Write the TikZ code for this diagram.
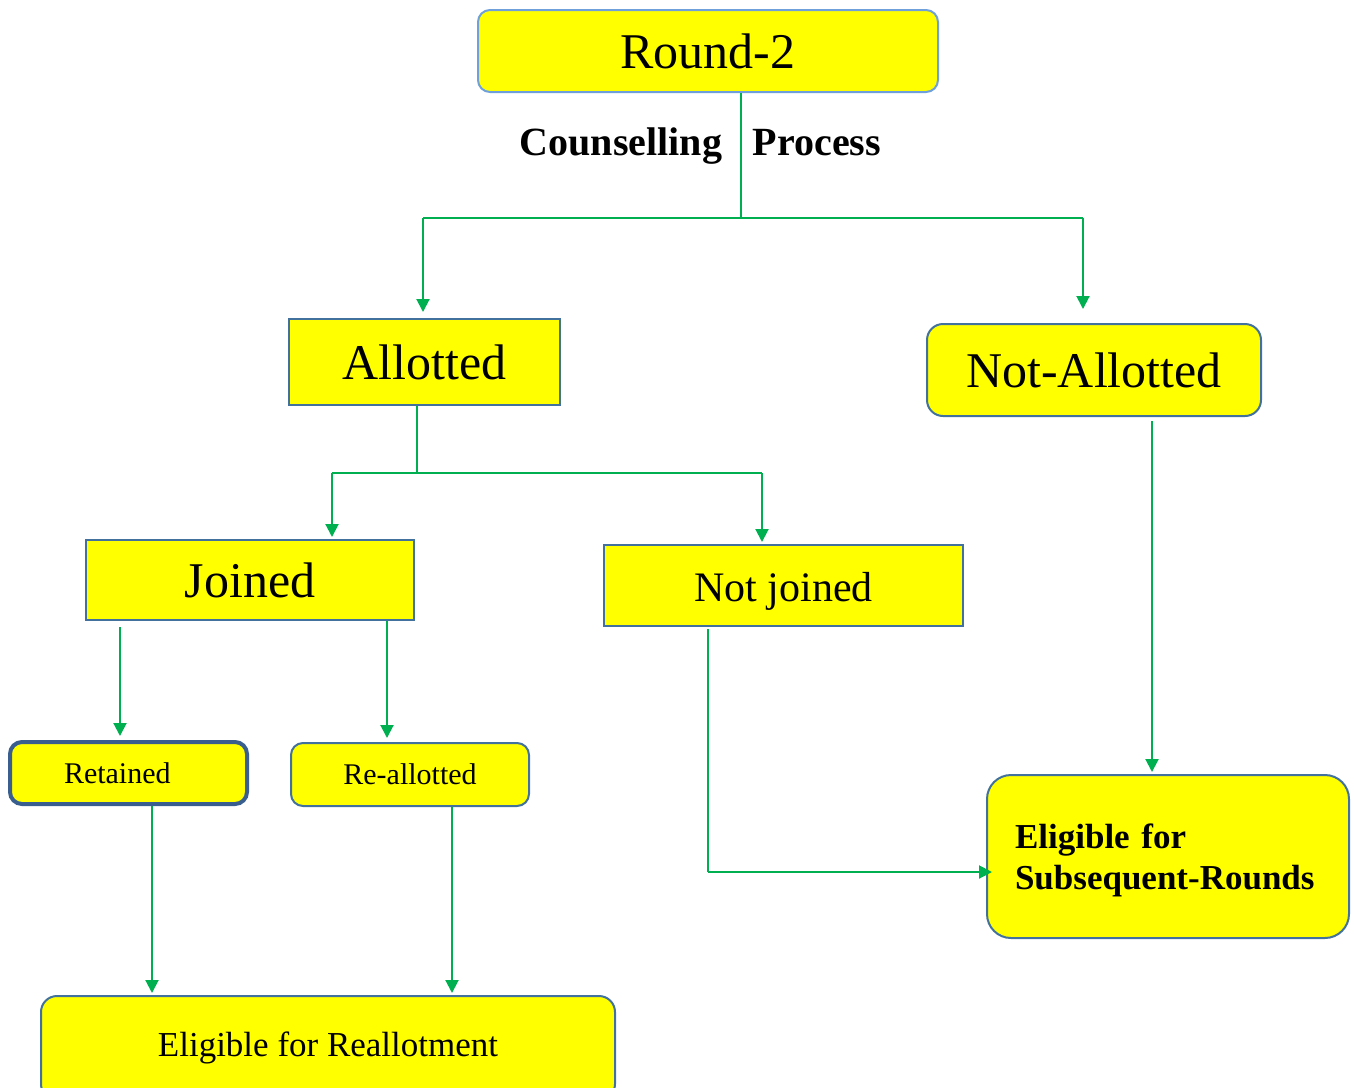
\documentclass[tikz,border=0pt]{standalone}
\usepackage{fontspec}
\setmainfont{Liberation Serif}
\usepackage{tikz}
\usetikzlibrary{arrows.meta}
\usepackage{xcolor}

\definecolor{boxfill}{HTML}{FFFF00}
\definecolor{boxline}{HTML}{41719C}
\definecolor{lightline}{HTML}{6FA0DC}
\definecolor{darkline}{HTML}{3A5F8F}
\definecolor{flow}{HTML}{00B050}

\begin{document}
\begin{tikzpicture}[x=0.5pt,y=-0.5pt,
  box/.style={draw=boxline, line width=1pt, fill=boxfill, inner sep=0pt},
  rbox/.style={box, rounded corners=6pt},
  link/.style={flow, line width=1pt},
  arr/.style={link, -{Triangle[width=6.5pt,length=6.5pt]}},
  big/.style={font=\fontsize{25}{30}\selectfont},
  small/.style={font=\fontsize{15}{18}\selectfont}]
\useasboundingbox (0,0) rectangle (1354,1087);

% boxes
\node[rbox, draw=lightline, big, minimum width=230pt, minimum height=41pt] (round2) at (708,51) {Round-2};
\node[font=\fontsize{20}{24}\selectfont\bfseries, anchor=base] (couns) at (621,155) {Counselling};
\node[font=\fontsize{20}{24}\selectfont\bfseries, anchor=base] (proc) at (817,155) {Process};

\node[box, big, minimum width=135.5pt, minimum height=43pt] (allot) at (424.5,362) {Allotted};
\node[rbox, rounded corners=8pt, big, minimum width=167pt, minimum height=46pt] (notallot) at (1094,370) {Not-Allotted};

\node[box, big, minimum width=164pt, minimum height=40pt] (joined) at (250,580) {Joined};
\node[box, font=\fontsize{21}{25}\selectfont, text height=20.3pt, text depth=4.6pt,
  minimum width=179.5pt, minimum height=40.5pt] (notjoined) at (783.5,585.5) {Not joined};

\node[rbox, draw=darkline, line width=2pt, small, align=left, text width=64.5pt, inner xsep=27pt,
  minimum width=118.5pt, minimum height=31pt] (retained) at (128.5,773) {Retained};
\node[rbox, small, minimum width=119pt, minimum height=31.5pt] (realloc) at (410,774.5) {Re-allotted};

\node[rbox, rounded corners=12pt, font=\fontsize{17.5}{20.5}\selectfont\bfseries, align=left,
  text width=153pt, inner xsep=14pt, minimum width=181pt, minimum height=81.5pt] (subseq) at (1168,856.5) {\rule{0pt}{16pt}Eligible for\\Subsequent-Rounds};
\node[rbox, rounded corners=8pt, font=\fontsize{17.5}{21}\selectfont, minimum width=287pt, minimum height=52pt] (realot) at (328,1048) {Eligible for Reallotment};

% junctions
\coordinate (r2j) at (741,218);
\coordinate (r2l) at (423,218);
\coordinate (r2r) at (1083,218);
\coordinate (aj) at (417,473);
\coordinate (al) at (332,473);
\coordinate (ar) at (762,473);
\coordinate (jx1) at (120,0);
\coordinate (jx2) at (387,0);
\coordinate (rx1) at (152,0);
\coordinate (rx2) at (452,0);
\coordinate (nx) at (1152,0);
\coordinate (njc) at (708,872);

% connectors
\draw[link] (r2j |- round2.south) -- (r2j);
\draw[link] (r2l) -- (r2r);
\draw[arr, shorten >=3pt] (r2l) -- (r2l |- allot.north);
\draw[arr, shorten >=7pt] (r2r) -- (r2r |- notallot.north);

\draw[link] (aj |- allot.south) -- (aj);
\draw[link] (al) -- (ar);
\draw[arr, shorten >=1pt] (al) -- (al |- joined.north);
\draw[arr, shorten >=1pt] (ar) -- (ar |- notjoined.north);

\draw[arr, shorten <=3pt, shorten >=2pt] (jx1 |- joined.south) -- (jx1 |- retained.north);
\draw[arr, shorten >=2pt] (jx2 |- joined.south) -- (jx2 |- realloc.north);

\draw[arr, shorten >=1pt] (rx1 |- retained.south) -- (rx1 |- realot.north);
\draw[arr, shorten >=1pt] (rx2 |- realloc.south) -- (rx2 |- realot.north);

\draw[link, shorten <=1pt] (njc |- notjoined.south) -- (njc);
\draw[arr, shorten >=-3pt] (njc) -- (subseq.west |- njc);

\draw[arr, shorten <=2pt, shorten >=1pt] (nx |- notallot.south) -- (nx |- subseq.north);
\end{tikzpicture}
\end{document}
